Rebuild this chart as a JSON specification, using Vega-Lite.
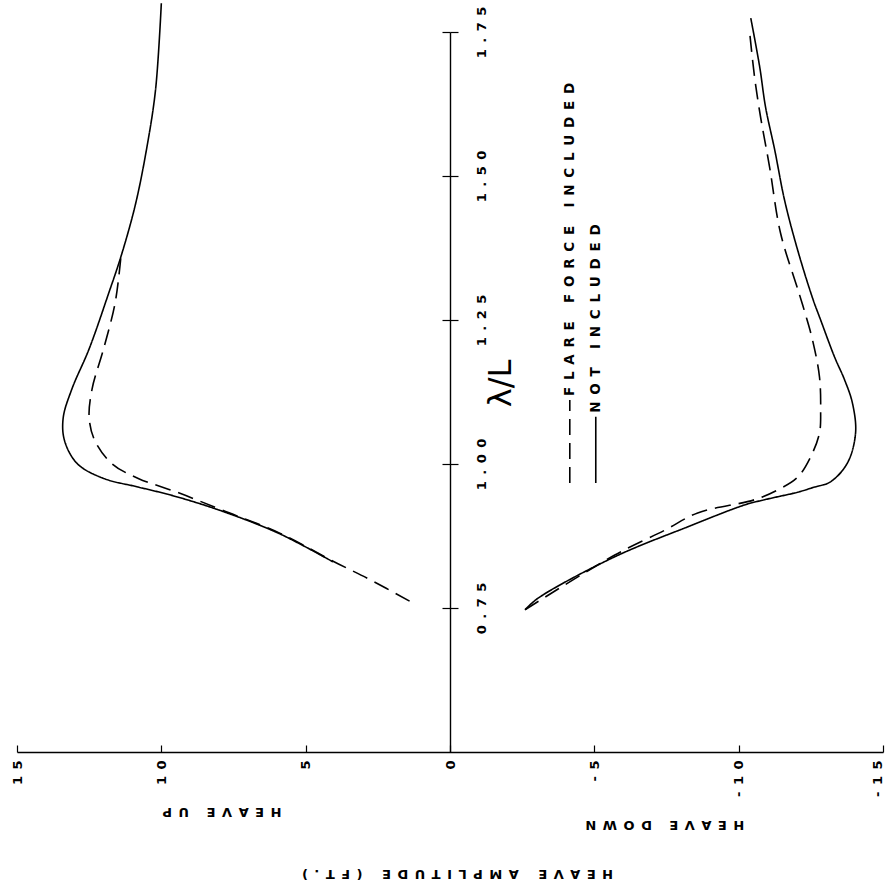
{
  "$schema": "https://vega.github.io/schema/vega-lite/v6.json",
  "width": 866,
  "height": 720,
  "autosize": {"type": "none"},
  "padding": {"left": 17, "top": 32, "right": 2, "bottom": 140},
  "background": "white",
  "config": {
    "view": {"stroke": null},
    "axis": {
      "grid": false,
      "domainColor": "black",
      "tickColor": "black",
      "labelColor": "black",
      "titleColor": "black",
      "labelFont": "DejaVu Sans",
      "labelFontWeight": "bold",
      "labelFontSize": 13,
      "titleFont": "DejaVu Sans",
      "titleFontWeight": "bold",
      "titleFontSize": 13
    }
  },
  "datasets": {
    "curves": [
      {"series": "up-none", "case": "none", "lam": 0.830, "amp": 4.05},
      {"series": "up-none", "case": "none", "lam": 0.880, "amp": 5.95},
      {"series": "up-none", "case": "none", "lam": 0.920, "amp": 8.0},
      {"series": "up-none", "case": "none", "lam": 0.945, "amp": 9.6},
      {"series": "up-none", "case": "none", "lam": 0.960, "amp": 10.8},
      {"series": "up-none", "case": "none", "lam": 0.975, "amp": 12.0},
      {"series": "up-none", "case": "none", "lam": 1.000, "amp": 12.9},
      {"series": "up-none", "case": "none", "lam": 1.040, "amp": 13.35},
      {"series": "up-none", "case": "none", "lam": 1.080, "amp": 13.4},
      {"series": "up-none", "case": "none", "lam": 1.130, "amp": 13.1},
      {"series": "up-none", "case": "none", "lam": 1.200, "amp": 12.5},
      {"series": "up-none", "case": "none", "lam": 1.300, "amp": 11.8},
      {"series": "up-none", "case": "none", "lam": 1.360, "amp": 11.4},
      {"series": "up-none", "case": "none", "lam": 1.450, "amp": 10.9},
      {"series": "up-none", "case": "none", "lam": 1.550, "amp": 10.5},
      {"series": "up-none", "case": "none", "lam": 1.650, "amp": 10.2},
      {"series": "up-none", "case": "none", "lam": 1.800, "amp": 10.0},

      {"series": "up-flare", "case": "flare", "lam": 0.762, "amp": 1.4},
      {"series": "up-flare", "case": "flare", "lam": 0.800, "amp": 2.8},
      {"series": "up-flare", "case": "flare", "lam": 0.830, "amp": 4.0},
      {"series": "up-flare", "case": "flare", "lam": 0.880, "amp": 5.9},
      {"series": "up-flare", "case": "flare", "lam": 0.920, "amp": 7.9},
      {"series": "up-flare", "case": "flare", "lam": 0.950, "amp": 9.4},
      {"series": "up-flare", "case": "flare", "lam": 0.975, "amp": 10.8},
      {"series": "up-flare", "case": "flare", "lam": 1.000, "amp": 11.7},
      {"series": "up-flare", "case": "flare", "lam": 1.040, "amp": 12.3},
      {"series": "up-flare", "case": "flare", "lam": 1.080, "amp": 12.5},
      {"series": "up-flare", "case": "flare", "lam": 1.130, "amp": 12.4},
      {"series": "up-flare", "case": "flare", "lam": 1.200, "amp": 12.0},
      {"series": "up-flare", "case": "flare", "lam": 1.280, "amp": 11.6},
      {"series": "up-flare", "case": "flare", "lam": 1.360, "amp": 11.4},

      {"series": "down-none", "case": "none", "lam": 0.747, "amp": -2.6},
      {"series": "down-none", "case": "none", "lam": 0.767, "amp": -3.05},
      {"series": "down-none", "case": "none", "lam": 0.839, "amp": -5.71},
      {"series": "down-none", "case": "none", "lam": 0.891, "amp": -8.24},
      {"series": "down-none", "case": "none", "lam": 0.929, "amp": -10.21},
      {"series": "down-none", "case": "none", "lam": 0.938, "amp": -10.9},
      {"series": "down-none", "case": "none", "lam": 0.951, "amp": -12.04},
      {"series": "down-none", "case": "none", "lam": 0.960, "amp": -12.63},
      {"series": "down-none", "case": "none", "lam": 0.969, "amp": -13.18},
      {"series": "down-none", "case": "none", "lam": 1.002, "amp": -13.77},
      {"series": "down-none", "case": "none", "lam": 1.054, "amp": -14.05},
      {"series": "down-none", "case": "none", "lam": 1.106, "amp": -13.94},
      {"series": "down-none", "case": "none", "lam": 1.146, "amp": -13.67},
      {"series": "down-none", "case": "none", "lam": 1.186, "amp": -13.32},
      {"series": "down-none", "case": "none", "lam": 1.250, "amp": -12.84},
      {"series": "down-none", "case": "none", "lam": 1.288, "amp": -12.56},
      {"series": "down-none", "case": "none", "lam": 1.372, "amp": -12.04},
      {"series": "down-none", "case": "none", "lam": 1.458, "amp": -11.59},
      {"series": "down-none", "case": "none", "lam": 1.545, "amp": -11.25},
      {"series": "down-none", "case": "none", "lam": 1.620, "amp": -10.93},
      {"series": "down-none", "case": "none", "lam": 1.689, "amp": -10.73},
      {"series": "down-none", "case": "none", "lam": 1.774, "amp": -10.42},

      {"series": "down-flare", "case": "flare", "lam": 0.747, "amp": -2.6},
      {"series": "down-flare", "case": "flare", "lam": 0.842, "amp": -5.71},
      {"series": "down-flare", "case": "flare", "lam": 0.885, "amp": -7.44},
      {"series": "down-flare", "case": "flare", "lam": 0.915, "amp": -8.58},
      {"series": "down-flare", "case": "flare", "lam": 0.938, "amp": -10.55},
      {"series": "down-flare", "case": "flare", "lam": 0.955, "amp": -11.35},
      {"series": "down-flare", "case": "flare", "lam": 0.977, "amp": -12.04},
      {"series": "down-flare", "case": "flare", "lam": 1.012, "amp": -12.49},
      {"series": "down-flare", "case": "flare", "lam": 1.054, "amp": -12.80},
      {"series": "down-flare", "case": "flare", "lam": 1.094, "amp": -12.84},
      {"series": "down-flare", "case": "flare", "lam": 1.151, "amp": -12.80},
      {"series": "down-flare", "case": "flare", "lam": 1.215, "amp": -12.56},
      {"series": "down-flare", "case": "flare", "lam": 1.262, "amp": -12.30},
      {"series": "down-flare", "case": "flare", "lam": 1.300, "amp": -12.07},
      {"series": "down-flare", "case": "flare", "lam": 1.401, "amp": -11.45},
      {"series": "down-flare", "case": "flare", "lam": 1.516, "amp": -11.07},
      {"series": "down-flare", "case": "flare", "lam": 1.602, "amp": -10.76},
      {"series": "down-flare", "case": "flare", "lam": 1.672, "amp": -10.55},
      {"series": "down-flare", "case": "flare", "lam": 1.750, "amp": -10.38}
    ],
    "keys": [
      {"case": "flare", "amp": -4.15, "lam": 0.967, "lam2": 1.111},
      {"case": "none", "amp": -5.05, "lam": 0.967, "lam2": 1.082}
    ],
    "keyLabels": [
      {"txt": "FLARE FORCE INCLUDED", "amp": -4.15, "lam": 1.111},
      {"txt": "NOT INCLUDED", "amp": -5.05, "lam": 1.082}
    ],
    "sideLabels": [
      {"txt": "HEAVE UP", "amp": 7.9, "lam": 0.396},
      {"txt": "HEAVE DOWN", "amp": -7.44, "lam": 0.373}
    ],
    "lambdaLabel": [
      {"txt": "λ/L", "amp": -1.76, "lam": 1.14}
    ]
  },
  "layer": [
    {
      "data": {"name": "curves"},
      "mark": {"type": "line", "interpolate": "catmull-rom", "color": "black", "strokeWidth": 1.6},
      "encoding": {
        "x": {
          "field": "amp",
          "type": "quantitative",
          "scale": {"domain": [-15, 15], "reverse": true, "nice": false, "zero": false},
          "axis": {
            "orient": "bottom",
            "values": [15, 10, 5, 0, -5, -10, -15],
            "tickSize": -7,
            "tickWidth": 1.2,
            "domainWidth": 1.4,
            "labelAngle": 270,
            "labelAlign": "right",
            "labelBaseline": "middle",
            "labelPadding": 15,
            "labelFlush": false,
            "labelOverlap": false,
            "labelOffset": {"condition": {"test": "datum.value == -15", "value": -6}, "value": 0},
            "labelExpr": "join(split(toString(datum.value), ''), '\u2002')",
            "title": "H\u2002E\u2002A\u2002V\u2002E\u2002\u2002\u2002A\u2002M\u2002P\u2002L\u2002I\u2002T\u2002U\u2002D\u2002E\u2002\u2002\u2002(\u2002F\u2002T\u2002.\u2002)",
            "titleAngle": 180,
            "titleAlign": "center",
            "titleBaseline": "middle",
            "titleX": 440,
            "titleY": 121
          }
        },
        "y": {
          "field": "lam",
          "type": "quantitative",
          "scale": {"domain": [0.5, 1.75], "nice": false, "zero": false},
          "axis": {
            "orient": "right",
            "offset": -433,
            "values": [0.75, 1.0, 1.25, 1.5, 1.75],
            "tickSize": 8,
            "tickWidth": 1.2,
            "domainWidth": 1.4,
            "labelAngle": 270,
            "labelAlign": "center",
            "labelBaseline": "middle",
            "labelPadding": 23,
            "labelFlush": false,
            "labelOverlap": false,
            "labelExpr": "join(split(format(datum.value, '.2f'), ''), '\u2002')",
            "title": null
          }
        },
        "detail": {"field": "series"},
        "strokeDash": {
          "field": "case",
          "type": "nominal",
          "scale": {"domain": ["flare", "none"], "range": [[16, 8], [1, 0]]},
          "legend": null
        },
        "order": {"field": "lam", "type": "quantitative"}
      }
    },
    {
      "data": {"name": "keys"},
      "mark": {"type": "rule", "color": "black", "strokeWidth": 1.6},
      "encoding": {
        "x": {"field": "amp", "type": "quantitative"},
        "y": {
          "field": "lam",
          "type": "quantitative",
          "axis": {
            "orient": "left",
            "offset": -433,
            "values": [0.75, 1.0, 1.25, 1.5, 1.75],
            "tickSize": 8,
            "tickWidth": 1.2,
            "domain": false,
            "labels": false,
            "title": null
          }
        },
        "y2": {"field": "lam2"},
        "strokeDash": {"field": "case", "type": "nominal", "legend": null}
      }
    },
    {
      "data": {"name": "keyLabels"},
      "transform": [{"calculate": "join(split(datum.txt, ''), '\u2002')", "as": "shown"}],
      "mark": {"type": "text", "angle": 270, "align": "left", "baseline": "middle", "dx": 4, "font": "DejaVu Sans", "fontWeight": "bold", "fontSize": 13.5, "color": "black"},
      "encoding": {
        "x": {"field": "amp", "type": "quantitative"},
        "y": {"field": "lam", "type": "quantitative", "axis": null},
        "text": {"field": "shown"}
      }
    },
    {
      "data": {"name": "sideLabels"},
      "transform": [{"calculate": "join(split(datum.txt, ''), '\u2002')", "as": "shown"}],
      "mark": {"type": "text", "angle": 180, "align": "center", "baseline": "middle", "font": "DejaVu Sans", "fontWeight": "bold", "fontSize": 13, "color": "black"},
      "encoding": {
        "x": {"field": "amp", "type": "quantitative"},
        "y": {"field": "lam", "type": "quantitative", "axis": null},
        "text": {"field": "shown"}
      }
    },
    {
      "data": {"name": "lambdaLabel"},
      "mark": {"type": "text", "angle": 270, "align": "center", "baseline": "middle", "font": "DejaVu Sans", "fontWeight": "normal", "fontSize": 32, "color": "black"},
      "encoding": {
        "x": {"field": "amp", "type": "quantitative"},
        "y": {"field": "lam", "type": "quantitative", "axis": null},
        "text": {"field": "txt"}
      }
    }
  ],
  "resolve": {"axis": {"y": "independent"}}
}
